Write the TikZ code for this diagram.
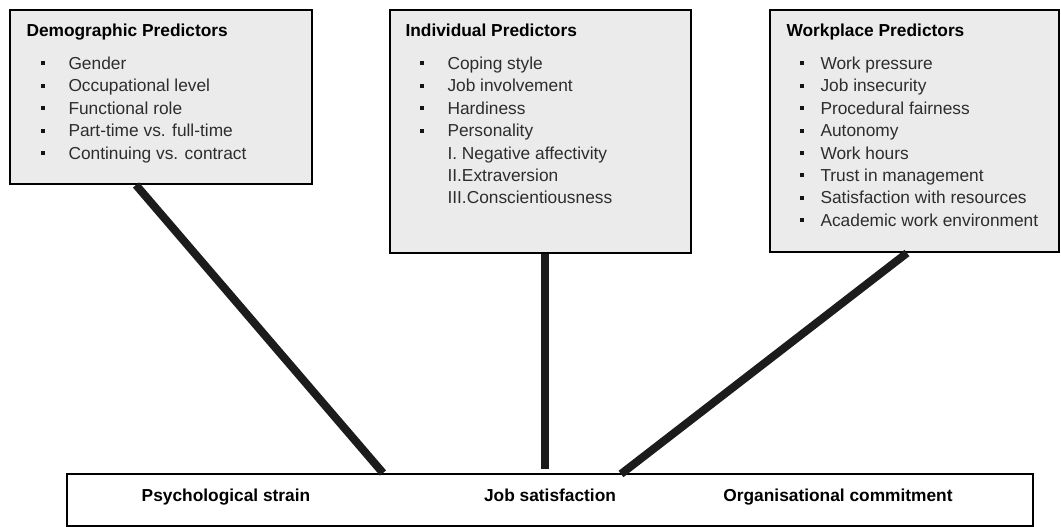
\documentclass[tikz,border=0pt]{standalone}
\usepackage{fontspec}
\setmainfont{Liberation Sans}
\usetikzlibrary{calc}

\tikzset{every picture/.style={line width=0.75pt}}
\tikzset{
  predbox/.style={draw, line width=1.5pt, fill={rgb,255:red,235;green,235;blue,235}, inner sep=0pt, anchor=north west},
  outbox/.style={draw, line width=1.5pt, fill=white, inner sep=0pt, anchor=north west},
  link/.style={line width=6pt, color={rgb,255:red,28;green,28;blue,28}},
  boxtitle/.style={anchor=base west, inner sep=0.75pt, font=\fontsize{13}{16}\selectfont\bfseries},
  boxitem/.style={anchor=base west, inner sep=0.75pt, font=\fontsize{13}{16}\selectfont, text={rgb,255:red,45;green,45;blue,45}},
  outtext/.style={anchor=base, inner sep=0.75pt, font=\fontsize{13}{16}\selectfont\bfseries},
  bul/.style={fill={rgb,255:red,20;green,20;blue,20}}
}

\begin{document}
\begin{tikzpicture}[x=0.75pt,y=0.75pt,yscale=-1,xscale=1]
\useasboundingbox (0,0) rectangle (1061,527);

%Shape: Rectangle
\node [predbox, minimum width=226.5pt, minimum height=130.5pt] (demo) at (9,9) {};
%Shape: Rectangle
\node [predbox, minimum width=225.75pt, minimum height=182.25pt] (indiv) at (389,9) {};
%Shape: Rectangle
\node [predbox, minimum width=216.75pt, minimum height=181.5pt] (work) at (769,9) {};
%Shape: Rectangle
\node [outbox, minimum width=724.5pt, minimum height=39pt] (outc) at (66,473) {};

%Straight Lines
\draw [link] ($(demo.south west)+(127,0)$) -- ($(outc.north west)+(317,0)$) ;
%Straight Lines
\draw [link] ($(indiv.south west)+(156,0)$) -- ($(outc.north west)+(479,-4)$) ;
%Straight Lines
\draw [link] ($(work.south west)+(138,0)$) -- ($(outc.north west)+(555,1)$) ;

% Text Node
\node [boxtitle] (demo-title) at (25,37) {Demographic Predictors};
\fill [bul] (41,61.5) rectangle (45,65.5) ;
\node [boxitem] (demo-1) at (67,69.5) {Gender};
\fill [bul] (41,83.9) rectangle (45,87.9) ;
\node [boxitem] (demo-2) at (67,91.9) {Occupational level};
\fill [bul] (41,106.3) rectangle (45,110.3) ;
\node [boxitem] (demo-3) at (67,114.3) {Functional role};
\fill [bul] (41,128.7) rectangle (45,132.7) ;
\node [boxitem] (demo-4) at (67,136.7) {Part-time vs. full-time};
\fill [bul] (41,151.1) rectangle (45,155.1) ;
\node [boxitem] (demo-5) at (67,159.1) {Continuing vs. contract};

% Text Node
\node [boxtitle] (indiv-title) at (404,37) {Individual Predictors};
\fill [bul] (420,61.5) rectangle (424,65.5) ;
\node [boxitem] (indiv-1) at (446,69.5) {Coping style};
\fill [bul] (420,83.9) rectangle (424,87.9) ;
\node [boxitem] (indiv-2) at (446,91.9) {Job involvement};
\fill [bul] (420,106.3) rectangle (424,110.3) ;
\node [boxitem] (indiv-3) at (446,114.3) {Hardiness};
\fill [bul] (420,128.7) rectangle (424,132.7) ;
\node [boxitem] (indiv-4) at (446,136.7) {Personality};
\node [boxitem] (indiv-5) at (446,159.1) {I. Negative affectivity};
\node [boxitem] (indiv-6) at (446,181.5) {II.Extraversion};
\node [boxitem] (indiv-7) at (446,203.9) {III.Conscientiousness};

% Text Node
\node [boxtitle] (work-title) at (785,37) {Workplace Predictors};
\fill [bul] (800,61.5) rectangle (804,65.5) ;
\node [boxitem] (work-1) at (819,69.5) {Work pressure};
\fill [bul] (800,83.9) rectangle (804,87.9) ;
\node [boxitem] (work-2) at (819,91.9) {Job insecurity};
\fill [bul] (800,106.3) rectangle (804,110.3) ;
\node [boxitem] (work-3) at (819,114.3) {Procedural fairness};
\fill [bul] (800,128.7) rectangle (804,132.7) ;
\node [boxitem] (work-4) at (819,136.7) {Autonomy};
\fill [bul] (800,151.1) rectangle (804,155.1) ;
\node [boxitem] (work-5) at (819,159.1) {Work hours};
\fill [bul] (800,173.5) rectangle (804,177.5) ;
\node [boxitem] (work-6) at (819,181.5) {Trust in management};
\fill [bul] (800,195.9) rectangle (804,199.9) ;
\node [boxitem] (work-7) at (819,203.9) {Satisfaction with resources};
\fill [bul] (800,218.3) rectangle (804,222.3) ;
\node [boxitem] (work-8) at (819,226.3) {Academic work environment};

% Text Node
\node [outtext] (out-strain) at (226,501) {Psychological strain};
% Text Node
\node [outtext] (out-satis) at (550,501) {Job satisfaction};
% Text Node
\node [outtext] (out-commit) at (838,501) {Organisational commitment};

\end{tikzpicture}
\end{document}
